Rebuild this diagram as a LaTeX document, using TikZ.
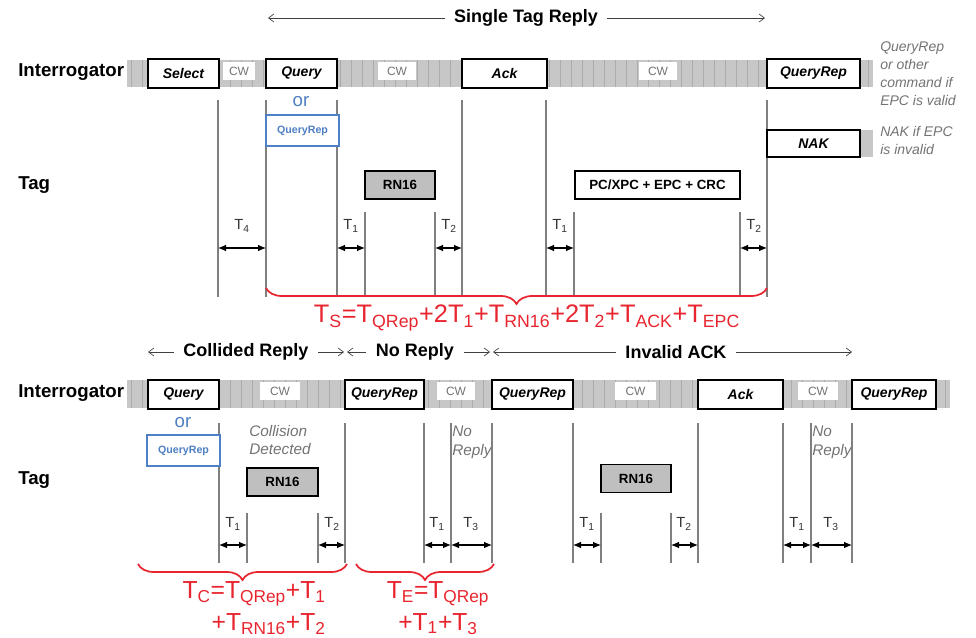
\documentclass[tikz,border=0pt]{standalone}
\usepackage{fontspec}
\setmainfont{Liberation Sans}
\usetikzlibrary{arrows.meta,decorations.pathreplacing}
\definecolor{fred}{HTML}{E8252F}
\definecolor{fblue}{HTML}{4F7FC4}
\newcommand{\tsub}[1]{\textsubscript{#1}}
\tikzset{
  cmd/.style={draw,line width=1.3pt,fill=white,inner sep=0pt,minimum height=21.75pt,font=\fontsize{10.5}{12}\selectfont\bfseries\itshape},
  cwbox/.style={fill=white,inner sep=0pt,minimum height=13.5pt,text=black!55,font=\fontsize{9}{10}\selectfont},
  altcmd/.style={draw=fblue,line width=1pt,fill=white,inner sep=0pt,minimum height=23.25pt,minimum width=54.75pt,text=fblue,font=\fontsize{8}{9}\selectfont\bfseries},
  reply/.style={draw,line width=1pt,inner sep=0pt,minimum height=21pt,font=\fontsize{10}{12}\selectfont\bfseries},
  band/.style={fill=black!22},
  texture/.style={black!33,line width=0.5pt},
  vline/.style={draw=black!50,line width=1pt},
  dimarrow/.style={{Latex[length=6pt,width=5pt]}-{Latex[length=6pt,width=5pt]},line width=0.8pt},
  tlab/.style={text=black!80,font=\fontsize{11}{12}\selectfont,inner sep=0pt},
  lane/.style={font=\fontsize{14}{16}\selectfont\bfseries,anchor=west,inner sep=0pt},
  ttl/.style={font=\fontsize{13.5}{15}\selectfont\bfseries,inner sep=7pt},
  spanarrow/.style={-{Straight Barb[length=4pt,width=6pt]},line width=0.5pt,black!75},
  note/.style={text=black!55,font=\fontsize{10.5}{13.5}\selectfont\itshape,align=left,anchor=west,inner sep=0pt},
  ornode/.style={text=fblue,font=\fontsize{14}{16}\selectfont,inner sep=0pt},
  tbrace/.style={decorate,decoration={brace,mirror,amplitude=12pt},draw=fred,line width=1.3pt},
  formula/.style={text=fred,font=\fontsize{18.5}{22.5}\selectfont,inner sep=0pt}
}
\begin{document}
\begin{tikzpicture}[x=0.75pt,y=-0.75pt]
            \useasboundingbox (0,0) rectangle (976,638);

            \node[ttl] (single) at (526,18) {Single Tag Reply};
            \coordinate (singleL) at (268,18);
            \coordinate (singleR) at (765,18);
            \draw[spanarrow] (single) -- (singleL);
            \draw[spanarrow] (single) -- (singleR);

            \node[lane] (intA) at (18,72) {Interrogator};
            \node[lane] (tagA) at (18,185) {Tag};

            \fill[band] (127,60) rectangle (873,87);
            \fill[band] (860,130) rectangle (873,157);
            \foreach \x in {131,142,...,870} \draw[texture] (\x,60) -- (\x,87);

            \draw[vline] (218,100) -- (218,297);
            \draw[vline] (266,100) -- (266,297);
            \draw[vline] (337,100) -- (337,297);
            \draw[vline] (462,100) -- (462,297);
            \draw[vline] (546,100) -- (546,297);
            \draw[vline] (767,100) -- (767,297);
            \draw[vline] (365,212) -- (365,297);
            \draw[vline] (435,212) -- (435,297);
            \draw[vline] (574,212) -- (574,297);
            \draw[vline] (740,212) -- (740,297);

            \node[cmd,minimum width=53.25pt] (sel) at (183.5,73.5) {Select};
            \node[cwbox,minimum width=24pt] (cwA) at (239,71) {CW};
            \node[cmd,minimum width=53.25pt] (qry) at (301.5,73.5) {Query};
            \node[cwbox,minimum width=28.5pt] (cwB) at (397,71) {CW};
            \node[cmd,minimum width=63.75pt] (ack) at (504.5,73.5) {Ack};
            \node[cwbox,minimum width=28.5pt] (cwC) at (658,71) {CW};
            \node[cmd,minimum width=69.75pt] (qrep) at (813.5,73.5) {QueryRep};
            \node[cmd,minimum width=69.75pt,minimum height=20.25pt] (nak) at (813.5,143.5) {NAK};

            \node[note] (validnote) at (880,74) {QueryRep\\or other\\command if\\EPC is valid};
            \node[note] (invalidnote) at (880,141) {NAK if EPC\\is invalid};

            \node[ornode] (orA) at (301,102) {or};
            \node[altcmd] (altA) at (302.5,130.5) {QueryRep};

            \node[reply,fill=black!25,minimum width=52.5pt] (rnA) at (400,185) {RN16};
            \node[reply,fill=white,minimum width=123.75pt] (epc) at (657.5,185) {PC/XPC + EPC + CRC};

            \draw[dimarrow] (218,248) -- (266,248);
            \draw[dimarrow] (337,248) -- (365,248);
            \draw[dimarrow] (435,248) -- (462,248);
            \draw[dimarrow] (546,248) -- (574,248);
            \draw[dimarrow] (740,248) -- (767,248);
            \node[tlab] (tfourA) at (242,226) {T\tsub{4}};
            \node[tlab] (toneA) at (351,226) {T\tsub{1}};
            \node[tlab] (ttwoA) at (449,226) {T\tsub{2}};
            \node[tlab] (toneB) at (560,226) {T\tsub{1}};
            \node[tlab] (ttwoB) at (754,226) {T\tsub{2}};

            \draw[tbrace] (266,288) -- (767,288);
            \node[formula,anchor=base,font=\fontsize{19}{22}\selectfont] (fs) at (527,323) {T\tsub{S}=T\tsub{QRep}+2T\tsub{1}+T\tsub{RN16}+2T\tsub{2}+T\tsub{ACK}+T\tsub{EPC}};

            \node[ttl] (collided) at (246,352) {Collided Reply};
            \node[ttl] (noreply) at (415,352) {No Reply};
            \node[ttl] (invalid) at (676,352) {Invalid ACK};
            \coordinate (collidedL) at (148,352);
            \coordinate (collidedR) at (344,352);
            \coordinate (noreplyL) at (347,352);
            \coordinate (noreplyR) at (490,352);
            \coordinate (invalidL) at (493,352);
            \coordinate (invalidR) at (852,352);
            \draw[spanarrow] (collided) -- (collidedL);
            \draw[spanarrow] (collided) -- (collidedR);
            \draw[spanarrow] (noreply) -- (noreplyL);
            \draw[spanarrow] (noreply) -- (noreplyR);
            \draw[spanarrow] (invalid) -- (invalidL);
            \draw[spanarrow] (invalid) -- (invalidR);

            \node[lane] (intB) at (18,393) {Interrogator};
            \node[lane] (tagB) at (18,480) {Tag};

            \fill[band] (127,380) rectangle (950,408);
            \foreach \x in {131,142,...,948} \draw[texture] (\x,380) -- (\x,408);

            \draw[vline] (219,423) -- (219,563);
            \draw[vline] (345,423) -- (345,563);
            \draw[vline] (424,423) -- (424,563);
            \draw[vline] (451,423) -- (451,563);
            \draw[vline] (492,423) -- (492,563);
            \draw[vline] (573,423) -- (573,563);
            \draw[vline] (698,423) -- (698,563);
            \draw[vline] (783,423) -- (783,563);
            \draw[vline] (811,423) -- (811,563);
            \draw[vline] (852,423) -- (852,563);
            \draw[vline] (247,513) -- (247,563);
            \draw[vline] (318,513) -- (318,563);
            \draw[vline] (601,513) -- (601,563);
            \draw[vline] (671,513) -- (671,563);

            \node[cmd,minimum width=53.25pt] (bqry) at (183.5,394.5) {Query};
            \node[cwbox,minimum width=30pt] (cwD) at (280,391.5) {CW};
            \node[cmd,minimum width=59.25pt] (bqrepA) at (384.5,394.5) {QueryRep};
            \node[cwbox,minimum width=28.5pt] (cwE) at (456,391.5) {CW};
            \node[cmd,minimum width=60.75pt] (bqrepB) at (532.5,394.5) {QueryRep};
            \node[cwbox,minimum width=30.75pt] (cwF) at (635.5,391.5) {CW};
            \node[cmd,minimum width=63.75pt] (back) at (740.5,394.5) {Ack};
            \node[cwbox,minimum width=30pt] (cwG) at (818,391.5) {CW};
            \node[cmd,minimum width=63pt] (bqrepC) at (894,394.5) {QueryRep};

            \node[ornode] (orB) at (183,423) {or};
            \node[altcmd] (altB) at (183.5,450.5) {QueryRep};
            \node[note,font=\fontsize{11.5}{14}\selectfont\itshape] (collision) at (249,440) {Collision\\Detected};
            \node[note,font=\fontsize{11.5}{14}\selectfont\itshape] (silentA) at (452,442) {No\\Reply};
            \node[note,font=\fontsize{11.5}{14}\selectfont\itshape] (silentB) at (812,442) {No\\Reply};

            \node[reply,fill=black!25,minimum width=53.25pt] (rnB) at (282.5,482) {RN16};
            \node[reply,fill=black!25,minimum width=52.5pt] (rnC) at (636,478.5) {RN16};

            \draw[dimarrow] (219,545) -- (247,545);
            \draw[dimarrow] (318,545) -- (345,545);
            \draw[dimarrow] (424,545) -- (451,545);
            \draw[dimarrow] (451,545) -- (492,545);
            \draw[dimarrow] (573,545) -- (601,545);
            \draw[dimarrow] (671,545) -- (698,545);
            \draw[dimarrow] (783,545) -- (811,545);
            \draw[dimarrow] (811,545) -- (852,545);
            \node[tlab] (toneC) at (233,524) {T\tsub{1}};
            \node[tlab] (ttwoC) at (332,524) {T\tsub{2}};
            \node[tlab] (toneD) at (437,524) {T\tsub{1}};
            \node[tlab] (tthreeA) at (471,524) {T\tsub{3}};
            \node[tlab] (toneE) at (587,524) {T\tsub{1}};
            \node[tlab] (ttwoD) at (684,524) {T\tsub{2}};
            \node[tlab] (toneF) at (797,524) {T\tsub{1}};
            \node[tlab] (tthreeB) at (831,524) {T\tsub{3}};

            \draw[tbrace] (138,564) -- (347,564);
            \draw[tbrace] (356,564) -- (494,564);
            \node[formula,align=right,anchor=base east] (fc) at (326,630) {T\tsub{C}=T\tsub{QRep}+T\tsub{1}\\[1pt]+T\tsub{RN16}+T\tsub{2}};
            \node[formula,align=center,anchor=base] (fe) at (438,630) {T\tsub{E}=T\tsub{QRep}\\[1pt]+T\tsub{1}+T\tsub{3}};
        \end{tikzpicture}
\end{document}
